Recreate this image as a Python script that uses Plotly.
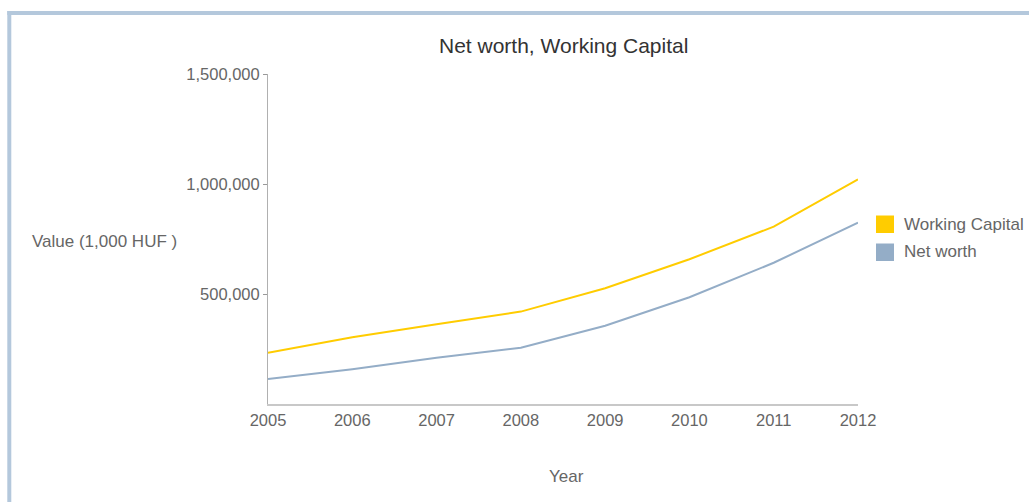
import plotly.graph_objects as go

years = [2005, 2006, 2007, 2008, 2009, 2010, 2011, 2012]
working_capital = [233000, 303000, 362000, 420000, 526000, 658000, 806000, 1021000]
net_worth = [114000, 158000, 210000, 256000, 356000, 485000, 642000, 824000]
y_ticks = [500000, 1000000, 1500000]
y_tick_labels = ["500,000", "1,000,000", "1,500,000"]
series_names = ["Working Capital", "Net worth"]

YELLOW = "#ffcc00"
BLUE = "#94adc7"
FONT = "Liberation Sans, Arial, sans-serif"
GREY = "#666666"

W, H = 1029, 502
# plot area in page pixels
PX0, PX1, PY0, PY1 = 268, 858, 74, 404
L, T = PX0, PY0
R, B = W - PX1, H - PY1
pw, ph = PX1 - PX0, PY1 - PY0


def px(x):
    return (x - PX0) / pw


def py(y):
    return (PY1 - y) / ph


fig = go.Figure()
fig.add_trace(go.Scatter(x=years, y=working_capital, mode="lines", name=series_names[0],
                         line=dict(color=YELLOW, width=2), showlegend=False))
fig.add_trace(go.Scatter(x=years, y=net_worth, mode="lines", name=series_names[1],
                         line=dict(color=BLUE, width=2), showlegend=False))

shapes = [
    dict(type="line", xref="paper", yref="paper", x0=px(9.3), x1=px(9.3), y0=py(11), y1=py(520),
         line=dict(color="#b4c8dc", width=4), layer="above"),
    dict(type="line", xref="paper", yref="paper", x0=px(7.3), x1=px(1050), y0=py(13), y1=py(13),
         line=dict(color="#b4c8dc", width=4), layer="above"),
]
annotations = [
    dict(text="Net worth, Working Capital", xref="paper", yref="paper", x=px(563.5), y=py(46),
         xanchor="center", yanchor="middle", showarrow=False,
         font=dict(size=21, color="#333333", family=FONT)),
    dict(text="Value (1,000 HUF )", xref="paper", yref="paper", x=px(104), y=py(241),
         xanchor="center", yanchor="middle", showarrow=False,
         font=dict(size=17, color=GREY, family=FONT)),
    dict(text="Year", xref="paper", yref="paper", x=px(566), y=py(476),
         xanchor="center", yanchor="middle", showarrow=False,
         font=dict(size=17, color=GREY, family=FONT)),
]
# manual legend
legend_colors = [YELLOW, BLUE]
for i, (nm, col) in enumerate(zip(series_names, legend_colors)):
    top = 215.5 + i * 28
    shapes.append(dict(type="rect", xref="paper", yref="paper",
                       x0=px(876), x1=px(894), y0=py(top), y1=py(top + 17.5),
                       fillcolor=col, line=dict(width=0), layer="above"))
    annotations.append(dict(text=nm, xref="paper", yref="paper", x=px(902), y=py(top + 8.5),
                            xanchor="left", yanchor="middle", showarrow=False,
                            font=dict(size=17, color=GREY, family=FONT)))

fig.update_layout(
    width=W, height=H,
    margin=dict(l=L, r=R, t=T, b=B),
    paper_bgcolor="white", plot_bgcolor="white",
    font=dict(family=FONT, color=GREY, size=16),
    showlegend=False,
    xaxis=dict(range=[2005, 2012], tickvals=years, ticktext=[str(y) for y in years],
               showgrid=False, zeroline=False, showline=True, linecolor="#c8c8c8",
               linewidth=2, ticks="", tickfont=dict(size=16.5, color=GREY)),
    yaxis=dict(range=[0, 1500000], tickvals=y_ticks, ticktext=y_tick_labels,
               showgrid=False, zeroline=False, showline=True, linecolor="#b0b0b0",
               linewidth=1, ticks="outside", ticklen=4, tickcolor="#999999",
               tickfont=dict(size=16.5, color=GREY)),
    annotations=annotations,
    shapes=shapes,
)

fig.write_html(
    "out.html",
    config={"displayModeBar": False},
    post_script="document.body.style.margin='0';document.body.style.overflow='hidden';",
)
